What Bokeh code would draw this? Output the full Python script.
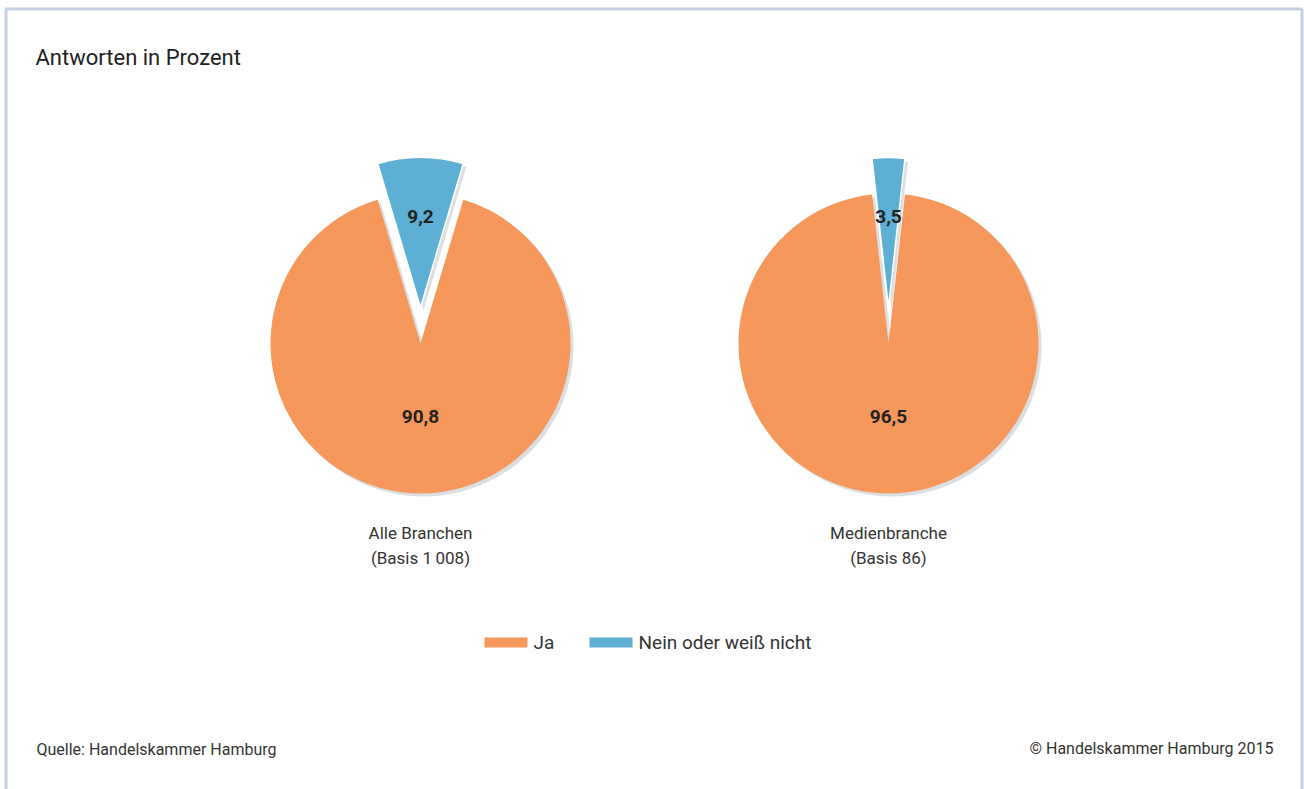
import math
from bokeh.plotting import figure
from bokeh.models import Range1d
from bokeh.core.properties import value
from bokeh.embed import file_html
from bokeh.resources import INLINE

# ---- data ----
groups = ["Alle Branchen", "Medienbranche"]
bases = ["(Basis 1\u2009008)", "(Basis 86)"]
ja = [90.8, 96.5]
nein = [9.2, 3.5]
series_names = ["Ja", "Nein oder weiß nicht"]
series_colors = ["#F6975B", "#5DAFD3"]
title = "Antworten in Prozent"
source_note = "Quelle: Handelskammer Hamburg"
copyright_note = "© Handelskammer Hamburg 2015"

W, H = 1304, 789
FONT = "Roboto"

p = figure(width=W, height=H, x_range=Range1d(0, W), y_range=Range1d(0, H),
           output_backend="svg", toolbar_location=None, min_border=0)
p.axis.visible = False
p.grid.visible = False
p.outline_line_color = None
p.background_fill_color = "white"
p.border_fill_color = "white"

def Y(sy):
    return H - sy

# frame
p.quad(left=[5.5], right=[1301.5], top=[Y(8.5)], bottom=[-10],
       fill_color=None, line_color="#C5D1E1", line_width=3)

centers_x = [420, 888]
cy = Y(343)
R = 150
explode = 36

def fmt(v):
    return f"{v:.1f}".replace(".", ",")

for i, gx in enumerate(centers_x):
    half = nein[i] * 3.6 / 2
    b_start = math.radians(90 - half)
    b_end = math.radians(90 + half)
    # shadows
    p.wedge(x=[gx + 3], y=[cy - 3], radius=R, start_angle=[b_end], end_angle=[b_start + 2 * math.pi],
            fill_color="#9aa3ab", fill_alpha=0.35, line_color=None)
    p.wedge(x=[gx + 3], y=[cy + explode - 3], radius=R, start_angle=[b_start], end_angle=[b_end],
            fill_color="#9aa3ab", fill_alpha=0.35, line_color=None)
    # Ja slice
    p.wedge(x=[gx], y=[cy], radius=R, start_angle=[b_end], end_angle=[b_start + 2 * math.pi],
            fill_color=series_colors[0], line_color=None)
    # Nein slice (exploded)
    p.wedge(x=[gx], y=[cy + explode], radius=R, start_angle=[b_start], end_angle=[b_end],
            fill_color=series_colors[1], line_color="white", line_width=1.5)
    # value labels
    p.text(x=[gx], y=[Y(216)], text=[fmt(nein[i])], text_align="center", text_baseline="middle",
           text_font=value(FONT), text_font_style="bold", text_font_size="19px", text_color="#222222")
    p.text(x=[gx], y=[Y(416)], text=[fmt(ja[i])], text_align="center", text_baseline="middle",
           text_font=value(FONT), text_font_style="bold", text_font_size="19px", text_color="#222222")
    # category labels
    p.text(x=[gx], y=[Y(532)], text=[groups[i]], text_align="center", text_baseline="middle",
           text_font=value(FONT), text_font_size="17px", text_color="#333333")
    p.text(x=[gx], y=[Y(557)], text=[bases[i]], text_align="center", text_baseline="middle",
           text_font=value(FONT), text_font_size="17px", text_color="#333333")

# legend
leg_x = [484, 589]
for j in range(2):
    p.quad(left=[leg_x[j]], right=[leg_x[j] + 43], top=[Y(637)], bottom=[Y(647)],
           fill_color=series_colors[j], line_color=None)
    p.text(x=[leg_x[j] + 49], y=[Y(642)], text=[series_names[j]], text_align="left",
           text_baseline="middle", text_font=value(FONT), text_font_size="19px",
           text_color="#333333")

# title
p.text(x=[35], y=[Y(57)], text=[title], text_align="left", text_baseline="middle",
       text_font=value(FONT), text_font_size="22px", text_color="#222222")

# footer
p.text(x=[36], y=[Y(749)], text=[source_note], text_align="left", text_baseline="middle",
       text_font=value(FONT), text_font_size="16px", text_color="#333333")
p.text(x=[1273], y=[Y(748)], text=[copyright_note], text_align="right", text_baseline="middle",
       text_font=value(FONT), text_font_size="16px", text_color="#333333")

open("out.html", "w").write(file_html(p, INLINE))
